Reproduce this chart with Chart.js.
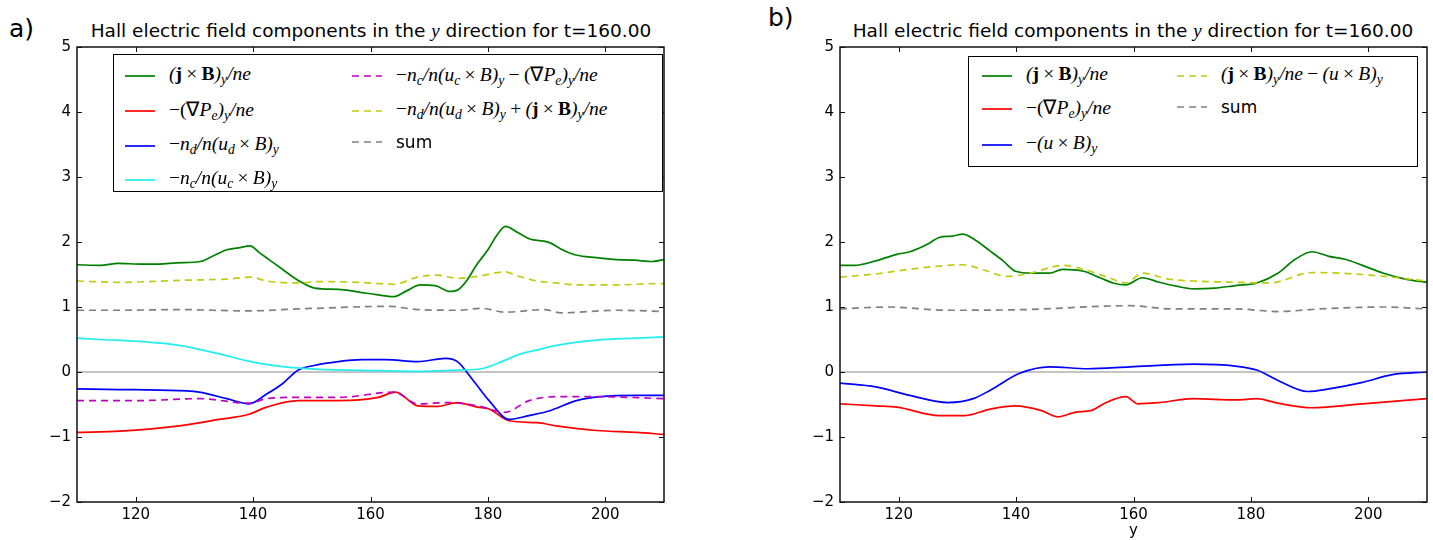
<!DOCTYPE html>
<html>
<head>
<meta charset="utf-8">
<script src="https://cdn.jsdelivr.net/npm/chart.js@4"></script>
<style>
body{margin:0;background:#fff;width:1433px;height:540px;overflow:hidden;position:relative;font-family:"DejaVu Sans",sans-serif;color:#000;}
.panel{position:absolute;top:0;height:540px;}
.title{position:absolute;font-size:18.5px;white-space:nowrap;transform:translateX(-50%);}
.tag{position:absolute;font-size:25px;}
.legend{position:absolute;border:1.5px solid #000;background:#fff;box-sizing:border-box;}
.item{position:absolute;height:24px;display:flex;align-items:center;transform:translateY(-50%);white-space:nowrap;}
.item svg{margin-right:14px;}
.m{font-family:"Liberation Serif",serif;font-style:italic;font-size:19.5px;}
.m .u{font-style:normal;}
.m .op{font-style:normal;margin:0 0.22em;}
.m .b{font-style:normal;font-weight:bold;}
.m sub{font-size:70%;vertical-align:-0.3em;}
.s{font-size:17px;}
</style>
</head>
<body>
<div class="tag" style="left:9px;top:14px">a)</div>
<div class="tag" style="left:768px;top:3px">b)</div>
<div class="title" style="left:371px;top:20px">Hall electric field components in the <span class="m" style="font-size:19px">y</span> direction for t=160.00</div>
<div class="title" style="left:1133px;top:20px">Hall electric field components in the <span class="m" style="font-size:19px">y</span> direction for t=160.00</div>
<div class="panel" style="left:0;width:716px"><canvas id="chartA"></canvas></div>
<div class="panel" style="left:716px;width:717px"><canvas id="chartB"></canvas></div>
<div class="legend" id="legA" style="left:113px;top:54px;width:550px;height:138px"></div>
<div class="legend" id="legB" style="left:968px;top:56px;width:450px;height:111px"></div>
<script>
const xMin = 110, xMax = 210;
const xTicks = [120, 140, 160, 180, 200];
const yTicks = [-2, -1, 0, 1, 2, 3, 4, 5];

// panel a) series
const aJxbX = [110, 114, 117, 121, 124, 127, 131, 133.5, 135.5, 137.5, 139.5, 141, 143, 145, 147.5, 150.5, 154.5, 158, 161, 164, 166, 168.5, 171, 173.5, 175, 176.5, 178, 180, 181.5, 183, 185, 187, 190.5, 192.5, 195, 198.5, 202, 205, 208, 210];
const aJxbY = [1.65, 1.64, 1.67, 1.66, 1.66, 1.68, 1.70, 1.80, 1.88, 1.91, 1.94, 1.84, 1.71, 1.58, 1.42, 1.29, 1.27, 1.23, 1.19, 1.16, 1.24, 1.34, 1.33, 1.24, 1.27, 1.42, 1.64, 1.88, 2.10, 2.24, 2.15, 2.05, 1.99, 1.89, 1.80, 1.76, 1.73, 1.72, 1.70, 1.73];
const aGradPX = [110, 117.3, 127.4, 134.2, 139.3, 142.3, 147.7, 154.5, 161.3, 164.3, 168, 171.4, 174.8, 178.2, 180.2, 183.6, 188.4, 191.7, 198.5, 205.3, 210];
const aGradPY = [-0.93, -0.91, -0.83, -0.73, -0.65, -0.54, -0.44, -0.44, -0.39, -0.31, -0.52, -0.53, -0.47, -0.54, -0.57, -0.75, -0.78, -0.83, -0.90, -0.93, -0.96];
const aNdX = [110, 117.3, 124, 130.8, 135.5, 139.3, 142.3, 145, 147.7, 150.4, 154.5, 158.6, 162.6, 168, 172.8, 174.8, 177.5, 180.2, 183.6, 187, 190.4, 195.1, 199.2, 205.3, 210];
const aNdY = [-0.26, -0.27, -0.28, -0.31, -0.41, -0.49, -0.34, -0.18, 0.03, 0.10, 0.16, 0.19, 0.19, 0.16, 0.21, 0.16, -0.13, -0.44, -0.73, -0.67, -0.60, -0.44, -0.38, -0.36, -0.36];
const aNcX = [110, 113.9, 120.6, 127.4, 134.2, 139.6, 144.3, 151.1, 161.3, 168, 174.8, 178.9, 181.6, 185, 188.4, 191.7, 198.5, 205.3, 210];
const aNcY = [0.52, 0.50, 0.47, 0.41, 0.28, 0.16, 0.09, 0.04, 0.02, 0.01, 0.03, 0.05, 0.13, 0.26, 0.34, 0.41, 0.49, 0.52, 0.54];
const aNcGradX = [110, 120.6, 130.8, 139.3, 142.3, 147.7, 154.5, 164, 168, 173.4, 178.2, 182.9, 187, 191.7, 198.5, 210];
const aNcGradY = [-0.44, -0.44, -0.41, -0.48, -0.41, -0.39, -0.39, -0.31, -0.49, -0.47, -0.52, -0.62, -0.44, -0.38, -0.38, -0.41];
const aNdJxbX = [110, 117.3, 127.4, 135.5, 139.6, 142.3, 147.7, 151.1, 157.9, 164, 168, 171.4, 174.8, 178.2, 182.9, 185, 188.4, 191.7, 195.1, 201.9, 208.7, 210];
const aNdJxbY = [1.40, 1.38, 1.41, 1.43, 1.46, 1.40, 1.37, 1.39, 1.38, 1.35, 1.46, 1.49, 1.44, 1.47, 1.54, 1.48, 1.40, 1.37, 1.34, 1.34, 1.36, 1.36];
const aSumX = [110, 117.3, 127.4, 139, 147.7, 163.3, 168, 174.8, 178.9, 182.9, 189.7, 192.4, 202, 210];
const aSumY = [0.95, 0.95, 0.96, 0.94, 0.97, 1.01, 0.96, 0.95, 0.98, 0.92, 0.96, 0.91, 0.95, 0.93];

// panel b) series
const bJxbX = [110, 112.5, 116.1, 119.7, 121.9, 124.8, 126.9, 129.1, 130.9, 132.7, 135.6, 137.8, 139.9, 142.8, 145.7, 147.9, 151.5, 154.3, 156.5, 158.7, 161.5, 164.4, 167.3, 170.2, 173.8, 177.4, 181, 184.6, 187.5, 190.4, 193.3, 196.2, 199, 202.6, 206.3, 210];
const bJxbY = [1.64, 1.64, 1.71, 1.81, 1.85, 1.96, 2.07, 2.09, 2.12, 2.05, 1.86, 1.71, 1.55, 1.52, 1.52, 1.58, 1.55, 1.45, 1.37, 1.34, 1.45, 1.38, 1.32, 1.28, 1.29, 1.33, 1.37, 1.52, 1.73, 1.85, 1.78, 1.73, 1.64, 1.52, 1.43, 1.38];
const bGradPX = [110, 116.1, 119.7, 126.9, 131.3, 135.6, 139.9, 144.2, 147.1, 150, 152.9, 155.1, 158.7, 160.8, 164.4, 170.2, 177.4, 181, 184.6, 190.4, 199, 210];
const bGradPY = [-0.49, -0.52, -0.54, -0.67, -0.67, -0.57, -0.52, -0.59, -0.69, -0.62, -0.59, -0.48, -0.38, -0.49, -0.47, -0.41, -0.43, -0.41, -0.48, -0.55, -0.49, -0.41];
const bUxbX = [110, 116.1, 121.9, 128.4, 132.7, 135.6, 140.6, 145.7, 152.2, 159.4, 170.2, 177.4, 181, 184.6, 189.7, 193.3, 199, 204.1, 210];
const bUxbY = [-0.17, -0.23, -0.36, -0.47, -0.41, -0.28, -0.02, 0.08, 0.05, 0.08, 0.12, 0.09, 0.03, -0.13, -0.30, -0.26, -0.16, -0.04, 0.00];
const bJxbUxbX = [110, 116.1, 121.9, 126.9, 130.9, 134.2, 138.5, 142.8, 147.9, 151.5, 155.8, 158.7, 161.5, 165.9, 170.2, 177.4, 183.2, 190.4, 199, 210];
const bJxbUxbY = [1.46, 1.51, 1.58, 1.63, 1.65, 1.58, 1.47, 1.53, 1.64, 1.58, 1.45, 1.37, 1.52, 1.43, 1.40, 1.38, 1.37, 1.53, 1.50, 1.40];
const bSumX = [110, 118.3, 128.4, 141.4, 159.4, 166.6, 177.4, 184.6, 191.8, 202.6, 210];
const bSumY = [0.97, 1.00, 0.95, 0.96, 1.02, 0.97, 0.97, 0.93, 0.97, 1.00, 0.97];

// legend labels (mathtext written as html)
const lblJxb = '(<span class="b">j</span><span class="op">×</span><span class="b">B</span>)<sub>y</sub>/ne';
const lblGradP = '<span class="u">−(∇</span>P<sub>e</sub>)<sub>y</sub>/ne';
const lblNd = '<span class="u">−</span>n<sub>d</sub>/n(u<sub>d</sub><span class="op">×</span>B)<sub>y</sub>';
const lblNc = '<span class="u">−</span>n<sub>c</sub>/n(u<sub>c</sub><span class="op">×</span>B)<sub>y</sub>';
const lblNcGrad = '<span class="u">−</span>n<sub>c</sub>/n(u<sub>c</sub><span class="op">×</span>B)<sub>y</sub><span class="op">−</span><span class="u">(∇</span>P<sub>e</sub>)<sub>y</sub>/ne';
const lblNdJxb = '<span class="u">−</span>n<sub>d</sub>/n(u<sub>d</sub><span class="op">×</span>B)<sub>y</sub><span class="op">+</span>(<span class="b">j</span><span class="op">×</span><span class="b">B</span>)<sub>y</sub>/ne';
const lblUxb = '<span class="u">−</span>(u<span class="op">×</span>B)<sub>y</sub>';
const lblJxbUxb = '(<span class="b">j</span><span class="op">×</span><span class="b">B</span>)<sub>y</sub>/ne<span class="op">−</span>(u<span class="op">×</span>B)<sub>y</sub>';

const DASH = [7, 5];
const seriesA = [
    {x: aJxbX, y: aJxbY, color: "#008000", dash: [], label: lblJxb},
    {x: aGradPX, y: aGradPY, color: "#ff0000", dash: [], label: lblGradP},
    {x: aNdX, y: aNdY, color: "#0000ff", dash: [], label: lblNd},
    {x: aNcX, y: aNcY, color: "#22eeee", dash: [], label: lblNc},
    {x: aNcGradX, y: aNcGradY, color: "#bf00bf", dash: DASH, label: lblNcGrad},
    {x: aNdJxbX, y: aNdJxbY, color: "#bfcc10", dash: DASH, label: lblNdJxb},
    {x: aSumX, y: aSumY, color: "#808080", dash: DASH, label: "sum"}
];
const seriesB = [
    {x: bJxbX, y: bJxbY, color: "#008000", dash: [], label: lblJxb},
    {x: bGradPX, y: bGradPY, color: "#ff0000", dash: [], label: lblGradP},
    {x: bUxbX, y: bUxbY, color: "#0000ff", dash: [], label: lblUxb},
    {x: bJxbUxbX, y: bJxbUxbY, color: "#bfcc10", dash: DASH, label: lblJxbUxb},
    {x: bSumX, y: bSumY, color: "#808080", dash: DASH, label: "sum"}
];

/* frame + inward ticks on all four sides, like the matplotlib axes */
const framePlugin = {
    id: "frame",
    afterDraw(chart){
        const ctx = chart.ctx, a = chart.chartArea;
        const sx = chart.scales.x, sy = chart.scales.y;
        ctx.save();
        ctx.strokeStyle = "#111";
        ctx.lineWidth = 1.5;
        ctx.strokeRect(a.left, a.top, a.right - a.left, a.bottom - a.top);
        ctx.lineWidth = 1;
        ctx.beginPath();
        xTicks.forEach(v=>{
            const px = Math.round(sx.getPixelForValue(v)) + 0.5;
            ctx.moveTo(px, a.bottom); ctx.lineTo(px, a.bottom - 5);
            ctx.moveTo(px, a.top); ctx.lineTo(px, a.top + 5);
        });
        yTicks.forEach(v=>{
            const py = Math.round(sy.getPixelForValue(v)) + 0.5;
            ctx.moveTo(a.left, py); ctx.lineTo(a.left + 5, py);
            ctx.moveTo(a.right, py); ctx.lineTo(a.right - 5, py);
        });
        ctx.stroke();
        ctx.restore();
    }
};

function makeChart(id, series, yWidth, padRight, xTitle){
    const datasets = [{
        data: [{x: xMin, y: 0}, {x: xMax, y: 0}],
        showLine: true, borderColor: "#c4c4c4", borderWidth: 2,
        pointRadius: 0, order: 100
    }];
    series.forEach((s, i)=>{
        datasets.push({
            data: s.x.map((v, k)=>({x: v, y: s.y[k]})),
            showLine: true,
            borderColor: s.color,
            borderWidth: 1.7,
            borderDash: s.dash,
            pointRadius: 0,
            cubicInterpolationMode: "monotone",
            order: series.length - i
        });
    });
    return new Chart(document.getElementById(id), {
        type: "scatter",
        data: {datasets: datasets},
        options: {
            responsive: true,
            maintainAspectRatio: false,
            animation: false,
            layout: {padding: {left: 0, right: padRight, top: 47, bottom: 0}},
            plugins: {legend: {display: false}, tooltip: {enabled: false}},
            scales: {
                x: {
                    type: "linear", min: xMin, max: xMax,
                    afterBuildTicks: sc => { sc.ticks = xTicks.map(v=>({value: v})); },
                    afterFit: sc => { sc.height = 38; },
                    grid: {display: false, drawTicks: false},
                    border: {display: false},
                    ticks: {color: "#000", padding: 4, font: {family: "DejaVu Sans", size: 15}},
                    title: {display: !!xTitle, text: xTitle || "", color: "#000", padding: 0,
                        font: {family: "DejaVu Sans", size: 15}}
                },
                y: {
                    type: "linear", min: yTicks[0], max: yTicks[yTicks.length - 1],
                    afterBuildTicks: sc => { sc.ticks = yTicks.map(v=>({value: v})); },
                    afterFit: sc => { sc.width = yWidth; },
                    grid: {display: false, drawTicks: false},
                    border: {display: false},
                    ticks: {color: "#000", padding: 6, font: {family: "DejaVu Sans", size: 15},
                        callback: v => v < 0 ? "\u2212" + Math.abs(v) : String(v)}
                }
            }
        },
        plugins: [framePlugin]
    });
}

function buildLegend(boxId, series, cols){
    const box = document.getElementById(boxId);
    series.forEach((s, i)=>{
        const c = cols[i];
        const el = document.createElement("div");
        el.className = "item";
        el.style.left = c[0] + "px";
        el.style.top = c[1] + "px";
        const dash = s.dash.length ? ' stroke-dasharray="' + s.dash.join(" ") + '"' : "";
        el.innerHTML = '<svg width="30" height="6"><line x1="0" y1="3" x2="30" y2="3" stroke="' + s.color +
            '" stroke-width="1.7"' + dash + '/></svg>' +
            '<span class="' + (s.label === "sum" ? "s" : "m") + '">' + s.label + '</span>';
        box.appendChild(el);
    });
}

makeChart("chartA", seriesA, 77, 52, "");
makeChart("chartB", seriesB, 124, 6, "y");

buildLegend("legA", seriesA, [[11, 21], [11, 56], [11, 91], [11, 125], [238, 21], [238, 56], [238, 87]]);
buildLegend("legB", seriesB, [[13, 19], [13, 52], [13, 88], [208, 19], [208, 50]]);
</script>
</body>
</html>
